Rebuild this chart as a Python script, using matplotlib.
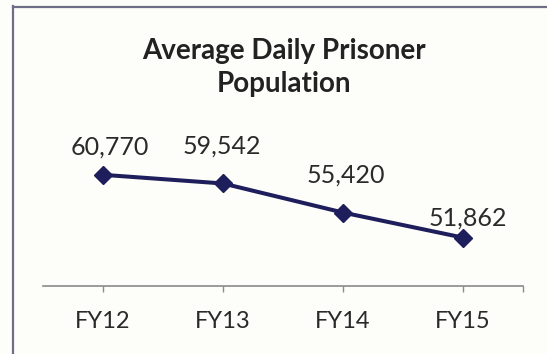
import matplotlib
matplotlib.use("Agg")
import matplotlib.pyplot as plt

# average daily prisoner population by fiscal year
years = ["FY12", "FY13", "FY14", "FY15"]
population = [60770, 59542, 55420, 51862]

# label offsets from each point (pixels)
label_dx = [7, -1, 3, 5]
label_dy = [28, 37, 37, 20]

plt.rcParams['font.family'] = ['Lato', 'DejaVu Sans']

fig = plt.figure(figsize=(5.47, 3.54), dpi=100, facecolor='#fdfdf9')
ax = fig.add_axes([43 / 547, 68 / 354, 480 / 547, 141 / 354])
ax.set_facecolor('none')

x = list(range(len(years)))
ax.plot(x, population, color='#1e1e5c', linewidth=2.9,
        marker='D', markersize=9, markerfacecolor='#1e1e5c', markeredgecolor='#1e1e5c')

px = 72 / 100
for i, v in enumerate(population):
    ax.annotate(f"{v:,}", (i, v), xytext=(label_dx[i] * px, label_dy[i] * px),
                textcoords='offset points', ha='center', va='center',
                fontsize=18, color='#2a2a2a')

ax.set_xlim(-0.5, 3.5)
ax.set_ylim(45000, 65000)
ax.set_xticks(x)
ax.set_xticklabels(years, fontsize=17, color='#2a2a2a')
ax.set_xticks([3.5], minor=True)
ax.tick_params(axis='x', which='both', length=4, width=1, color='#8a8a8a', pad=14)
ax.set_yticks([])
for side in ['top', 'right', 'left']:
    ax.spines[side].set_visible(False)
ax.spines['bottom'].set_color('#8a8a8a')
ax.spines['bottom'].set_linewidth(1.2)

# two-line bold title centred over the plot
fig.text(284 / 547, 1 - 51 / 354, "Average Daily Prisoner", ha='center', va='center',
         fontsize=20, fontweight='bold', color='#222222')
fig.text(284 / 547, 1 - 84 / 354, "Population", ha='center', va='center',
         fontsize=20, fontweight='bold', color='#222222')

# chart frame along the top and left edges
fig.add_artist(plt.Line2D([13 / 547, 13 / 547], [0, 1 - 6 / 354], transform=fig.transFigure,
                          color='#6e6e84', linewidth=1.6))
fig.add_artist(plt.Line2D([13 / 547, 1], [1 - 6.5 / 354, 1 - 6.5 / 354], transform=fig.transFigure,
                          color='#6e6e84', linewidth=1.6))

fig.savefig("out.png", dpi=100, facecolor=fig.get_facecolor())
